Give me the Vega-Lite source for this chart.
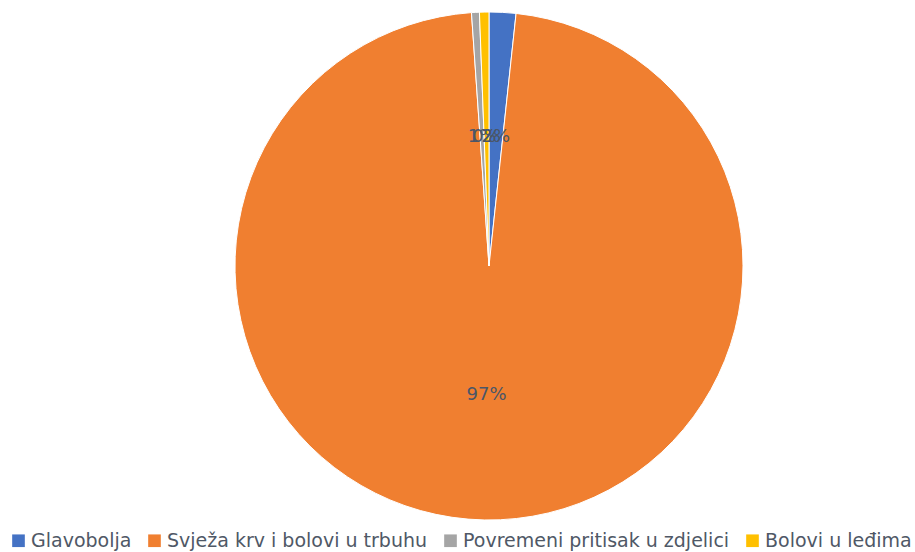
{
  "$schema": "https://vega.github.io/schema/vega-lite/v6.json",
  "width": 508,
  "height": 508,
  "autosize": "none",
  "padding": {"left": 235, "top": 12, "right": 172, "bottom": 32},
  "background": "white",
  "data": {
    "values": [
      {"kategorija": "Glavobolja", "vrijednost": 1.7, "oznaka": "2%", "redoslijed": 1},
      {"kategorija": "Svježa krv i bolovi u trbuhu", "vrijednost": 97.2, "oznaka": "97%", "redoslijed": 2},
      {"kategorija": "Povremeni pritisak u zdjelici", "vrijednost": 0.5, "oznaka": "1%", "redoslijed": 3},
      {"kategorija": "Bolovi u leđima", "vrijednost": 0.6, "oznaka": "0%", "redoslijed": 4}
    ]
  },
  "encoding": {
    "theta": {"field": "vrijednost", "type": "quantitative", "stack": true},
    "order": {"field": "redoslijed", "type": "quantitative"}
  },
  "layer": [
    {
      "mark": {"type": "arc", "outerRadius": 254, "stroke": "white", "strokeWidth": 1},
      "encoding": {
        "color": {
          "field": "kategorija",
          "type": "nominal",
          "sort": ["Glavobolja", "Svježa krv i bolovi u trbuhu", "Povremeni pritisak u zdjelici", "Bolovi u leđima"],
          "scale": {
            "domain": ["Glavobolja", "Svježa krv i bolovi u trbuhu", "Povremeni pritisak u zdjelici", "Bolovi u leđima"],
            "range": ["#4472C4", "#F07F30", "#A5A5A5", "#FFC000"]
          },
          "legend": {
            "title": null,
            "orient": "none",
            "direction": "horizontal",
            "legendX": -226,
            "legendY": 519,
            "symbolType": "square",
            "symbolSize": 160,
            "symbolStrokeWidth": 0,
            "labelFont": "DejaVu Sans",
            "labelFontSize": 19,
            "labelColor": "#4f5866",
            "labelLimit": 0,
            "columnPadding": 13,
            "labelOffset": 3
          }
        }
      }
    },
    {
      "mark": {"type": "text", "radius": 129, "font": "DejaVu Sans", "fontSize": 18, "color": "#4a5668"},
      "encoding": {
        "text": {"field": "oznaka"}
      }
    }
  ]
}
